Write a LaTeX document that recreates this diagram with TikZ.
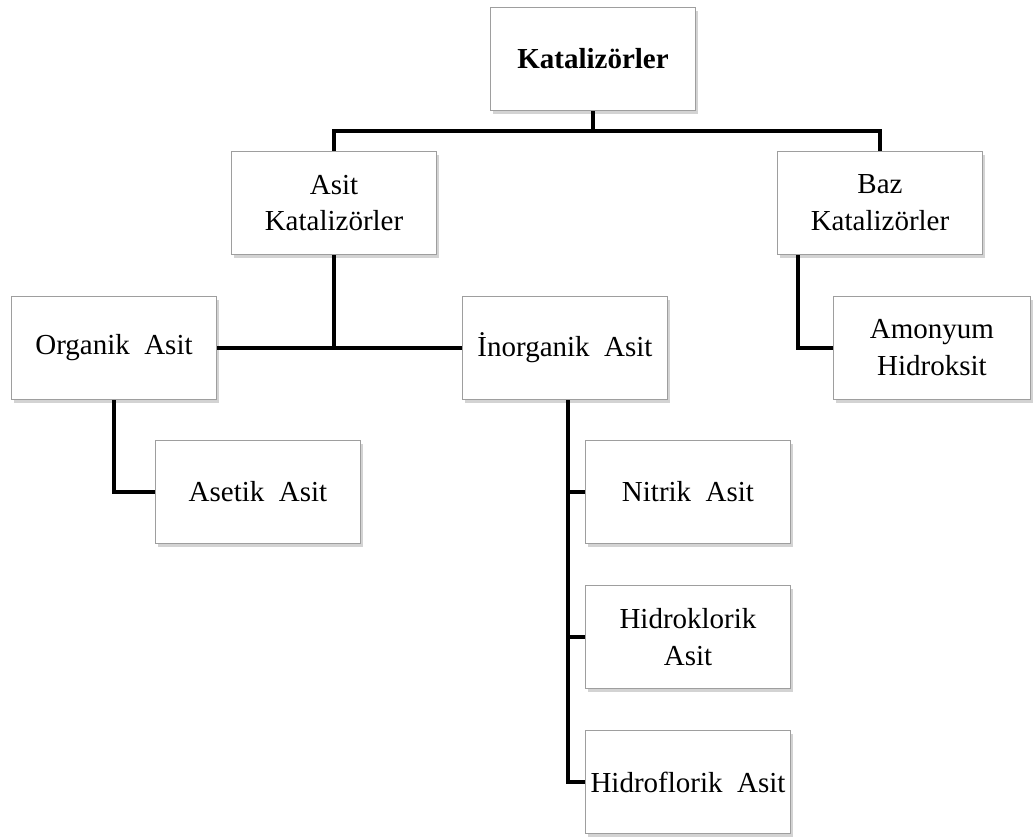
\documentclass[tikz,border=0pt]{standalone}
\usepackage{fontspec}
\setmainfont{Liberation Serif}
\usepackage{tikz}
\usetikzlibrary{positioning,shadows}

\begin{document}
\begin{tikzpicture}[on grid,
  box/.style={draw=black!38,fill=white,line width=0.6pt,minimum width=4.1cm,minimum height=2.06cm,
    inner sep=0pt,align=center,font=\fontsize{16.5}{21}\selectfont,
    drop shadow={shadow xshift=0.05cm,shadow yshift=-0.06cm,opacity=0.35}},
  link/.style={line width=2.3pt}]
  \useasboundingbox (-11.86,1.18) rectangle (8.8,-15.58);
  \node[box]  (kat) 					{\textbf{Katalizörler}};
  \node[box]  (asit) [below left=2.88cm and 5.18cm of kat]	{Asit\\Katalizörler};
  \node[box]  (baz)  [below right=2.88cm and 5.74cm of kat]	{Baz\\Katalizörler};
  \node[box]  (org)  [below left=2.9cm and 4.4cm of asit]	{Organik~~Asit};
  \node[box]  (inorg) [below right=2.9cm and 4.62cm of asit]	{İnorganik~~Asit};
  \node[box, minimum width=3.94cm]  (amon) [below right=2.9cm and 1.04cm of baz]	{Amonyum\\Hidroksit};
  \node[box]  (aset) [below right=2.88cm and 2.88cm of org]	{Asetik~~Asit};
  \node[box]  (nit)  [below right=2.88cm and 2.46cm of inorg]	{Nitrik~~Asit};
  \node[box]  (hcl)  [below=2.9cm of nit]		{Hidroklorik\\Asit};
  \node[box]  (hf)   [below=2.9cm of hcl]		{Hidroflorik~~Asit};
   \draw[link] (kat.south) -- ++(0,-0.4) coordinate (bus) -| (asit.north);
   \draw[link] (bus) -| (baz.north);
   \draw[link] (org.east) -- (inorg.west);
   \draw[link] (asit.south) -- (asit.south |- org.east);
   \draw[link] ([xshift=0.42cm]baz.south west) |- (amon.west);
   \draw[link] (org.south) |- (aset.west);
   \draw[link] ([xshift=0.06cm]inorg.south) coordinate (trunk) |- (hf.west);
   \draw[link] (nit.west) -- (trunk |- nit.west);
   \draw[link] (hcl.west) -- (trunk |- hcl.west);
\end{tikzpicture}
\end{document}
